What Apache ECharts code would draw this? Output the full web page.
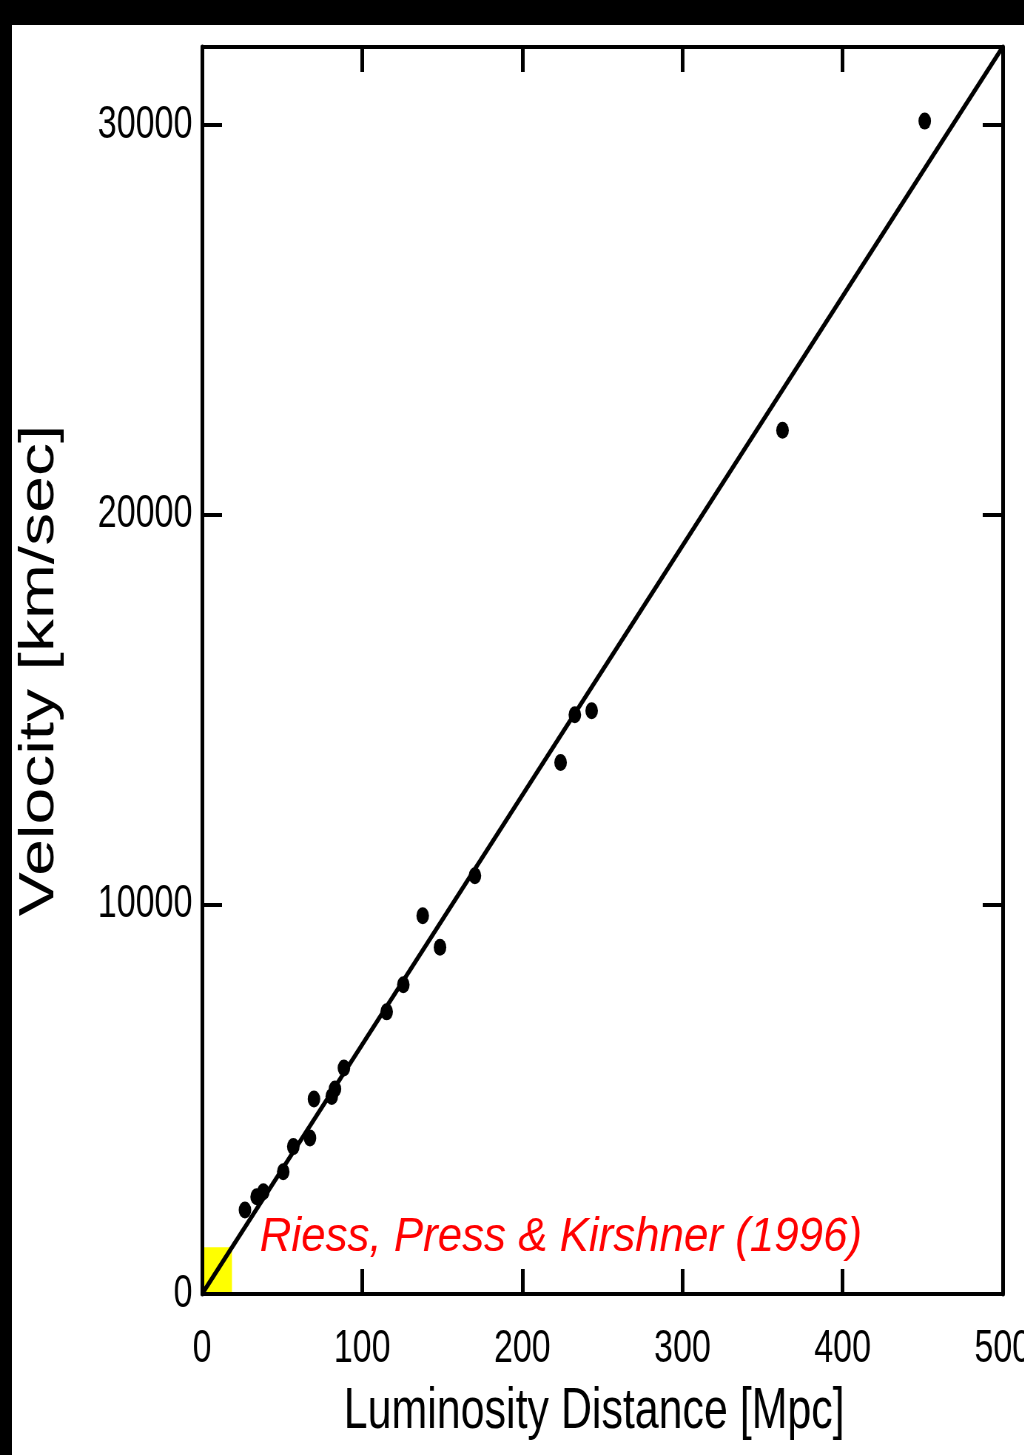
<!DOCTYPE html>
<html>
<head>
<meta charset="utf-8">
<script src="https://cdn.jsdelivr.net/npm/echarts@6/dist/echarts.min.js"></script>
<style>
  html, body { margin: 0; padding: 0; background: #000; overflow: hidden; width: 1024px; height: 1455px; }
  #bg { position: absolute; left: 12px; top: 25px; width: 1012px; height: 1430px; background: #fff; }
  #chart { position: absolute; left: 0; top: 0; width: 1384px; height: 1455px; transform: scaleX(0.74); transform-origin: 0 0; }
</style>
</head>
<body>
<div id="bg"></div>
<div id="chart"></div>
<script>
// ---- data ----
const xTicks = [0, 100, 200, 300, 400, 500];
const yTicks = [0, 10000, 20000, 30000];
const distance = [26.8, 34.1, 38.3, 50.7, 57.0, 67.4, 69.9, 81.0, 83.0, 88.6,
                  115.3, 125.7, 137.8, 148.6, 170.4, 223.9, 232.8, 243.3, 362.5, 451.3];
const velocity = [2157, 2498, 2626, 3140, 3782, 4005, 5006, 5066, 5263, 5802,
                  7240, 7933, 9705, 8901, 10732, 13641, 14865, 14968, 22164, 30098];
const fitX = [0, 500];
const fitY = [0, 32000];
const boxX = [0, 18.7];
const boxY = [0, 1200];
const citation = 'Riess, Press & Kirshner (1996)';
const xTitle = 'Luminosity Distance [Mpc]';
const yTitle = 'Velocity [km/sec]';

const points = distance.map((d, i) => [d, velocity[i]]);
const fitLine = fitX.map((x, i) => [x, fitY[i]]);

const SANS = '"Liberation Sans", Arial, sans-serif';

const chart = echarts.init(document.getElementById('chart'), null, { renderer: 'canvas' });

const axisLineStyleX = { color: '#000', width: 4 };
const axisLineStyleY = { color: '#000', width: 5 };
const plain = v => String(v);

chart.setOption({
  animation: false,
  backgroundColor: 'transparent',
  grid: { left: 273, top: 47, width: 1082, height: 1247, containLabel: false, outerBoundsMode: 'none' },
  xAxis: [
    {
      type: 'value', position: 'bottom', min: xTicks[0], max: xTicks[xTicks.length - 1], interval: 100, z: 5,
      axisLine: { show: true, onZero: false, lineStyle: axisLineStyleX },
      axisTick: { show: true, inside: true, length: 25, customValues: xTicks, lineStyle: { color: '#000', width: 5 } },
      axisLabel: { show: true, margin: 32, fontSize: 46, color: '#000', fontFamily: SANS, customValues: xTicks, formatter: plain },
      splitLine: { show: false },
      name: xTitle, nameLocation: 'middle', nameGap: 89,
      nameTextStyle: { fontSize: 58, color: '#000', fontFamily: SANS, padding: [0, 22, 0, 0] }
    },
    {
      type: 'value', position: 'top', min: xTicks[0], max: xTicks[xTicks.length - 1], interval: 100, z: 5,
      axisLine: { show: true, onZero: false, lineStyle: axisLineStyleX },
      axisTick: { show: true, inside: true, length: 25, customValues: xTicks, lineStyle: { color: '#000', width: 5 } },
      axisLabel: { show: false },
      splitLine: { show: false }
    }
  ],
  yAxis: [
    {
      type: 'value', position: 'left', min: 0, max: 32000, z: 5,
      axisLine: { show: true, onZero: false, lineStyle: axisLineStyleY },
      axisTick: { show: true, inside: true, length: 27, customValues: yTicks, lineStyle: { color: '#000', width: 4 } },
      axisLabel: { show: true, margin: 13, fontSize: 46, color: '#000', fontFamily: SANS, customValues: yTicks, formatter: plain },
      splitLine: { show: false },
      name: yTitle, nameLocation: 'middle', nameGap: 186,
      nameTextStyle: { fontSize: 66, color: '#000', fontFamily: SANS }
    },
    {
      type: 'value', position: 'right', min: 0, max: 32000, z: 5,
      axisLine: { show: true, onZero: false, lineStyle: axisLineStyleY },
      axisTick: { show: true, inside: true, length: 27, customValues: yTicks, lineStyle: { color: '#000', width: 4 } },
      axisLabel: { show: false },
      splitLine: { show: false }
    }
  ],
  series: [
    {
      type: 'line', xAxisIndex: 0, yAxisIndex: 0, data: fitLine, symbol: 'none', z: 3,
      lineStyle: { color: '#000', width: 5 },
      markArea: {
        silent: true,
        label: { show: false },
        itemStyle: { color: '#ffff00', opacity: 1 },
        data: [[{ coord: [boxX[0], boxY[0]] }, { coord: [boxX[1], boxY[1]] }]]
      }
    },
    {
      type: 'scatter', xAxisIndex: 0, yAxisIndex: 0, data: points, symbol: 'circle', symbolSize: 17, z: 4,
      itemStyle: { color: '#000', opacity: 1 }
    }
  ],
  graphic: [
    {
      type: 'text', x: 351, y: 1262, scaleX: 1.21, z: 10,
      style: { text: citation, font: 'italic 49px "Liberation Sans", Arial, sans-serif', fill: '#ff0000', align: 'left', verticalAlign: 'bottom' }
    }
  ]
});
</script>
</body>
</html>
